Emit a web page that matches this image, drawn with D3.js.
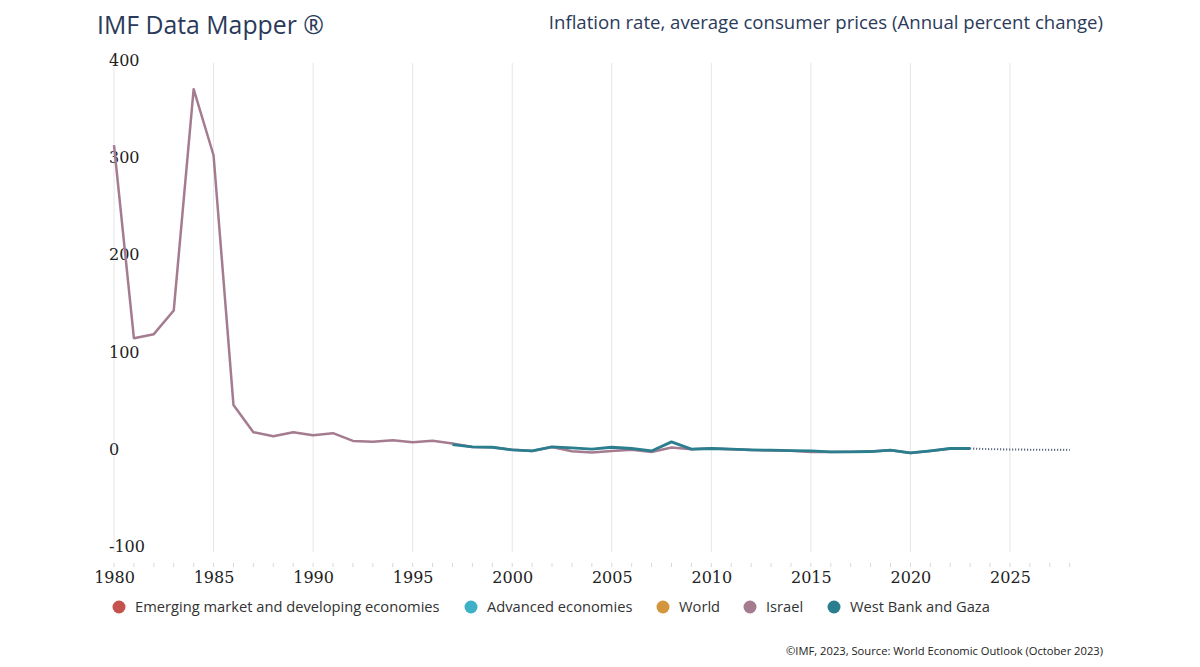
<!DOCTYPE html>
<html>
<head>
<meta charset="utf-8">
<script src="https://cdn.jsdelivr.net/npm/d3@7/dist/d3.min.js"></script>
<style>
  html, body { margin: 0; padding: 0; background: #fff; }
  svg { display: block; }
</style>
</head>
<body>
<svg id="chart" width="1200" height="667"></svg>
<script>
// ---- DATA ----
const title = "IMF Data Mapper ®";
const subtitle = "Inflation rate, average consumer prices (Annual percent change)";
const footer = "©IMF, 2023, Source: World Economic Outlook (October 2023)";

const yTicks = [400, 300, 200, 100, 0, -100];
const xTicks = [1980, 1985, 1990, 1995, 2000, 2005, 2010, 2015, 2020, 2025];

const legendNames = ["Emerging market and developing economies", "Advanced economies", "World", "Israel", "West Bank and Gaza"];
const legendColors = ["#c4524f", "#3fb1c6", "#d4953f", "#a57b90", "#2a7e8e"];

const israelYears = [1980,1981,1982,1983,1984,1985,1986,1987,1988,1989,1990,1991,1992,1993,1994,1995,1996,1997,1998,1999,2000,2001,2002,2003,2004,2005,2006,2007,2008,2009,2010,2011,2012,2013,2014,2015,2016,2017,2018,2019,2020,2021,2022,2023];
const israelValues = [312,113.6,117.7,142,369.5,301.6,45,17,12.8,17,13.9,16,8,7.2,8.7,6.7,8.2,5.3,1.8,1.5,-1.2,-2.3,1.8,-2.6,-3.9,-2.3,-1.2,-3.3,1.2,-0.5,0.2,-0.5,-1.4,-1.8,-2.2,-3.3,-3.4,-3.2,-2.8,-1.6,-4.4,-2.3,0.2,0.2];
const israelProjYears = [2023,2024,2025,2026,2027,2028];
const israelProjValues = [0.2,-0.5,-0.8,-1.0,-1.2,-1.2];

const wbgYears = [1997,1998,1999,2000,2001,2002,2003,2004,2005,2006,2007,2008,2009,2010,2011,2012,2013,2014,2015,2016,2017,2018,2019,2020,2021,2022,2023];
const wbgValues = [4.3,1.8,1.5,-1.2,-2.3,1.8,0.8,-0.5,1.5,0.2,-2.3,7.0,-0.5,0.2,-0.5,-1.2,-1.5,-1.9,-2.3,-3.3,-3.3,-2.9,-1.5,-4.4,-2.3,0.2,0.2];
const wbgProjYears = [2023,2024,2025,2026,2027,2028];
const wbgProjValues = [0.2,-0.5,-0.8,-1.0,-1.2,-1.2];

// ---- CHART ----
const svg = d3.select("#chart");
const x = d3.scaleLinear().domain([1980, 2028]).range([114, 1069.7]);
const y = d3.scaleLinear().domain([-100, 400]).range([546, 59.5]);

svg.append("text").attr("x", 97).attr("y", 34)
  .attr("font-family", "'Open Sans', sans-serif").attr("font-size", 24.8)
  .attr("fill", "#2b3a5a").text(title);
svg.append("text").attr("x", 1103).attr("y", 29).attr("text-anchor", "end")
  .attr("font-family", "'Open Sans', sans-serif").attr("font-size", 18.6)
  .attr("fill", "#2b3a5a").text(subtitle);

// vertical grid
svg.append("g").selectAll("line").data(xTicks).join("line")
  .attr("x1", d => x(d)).attr("x2", d => x(d))
  .attr("y1", 63).attr("y2", 552)
  .attr("stroke", "#e6e6e6").attr("stroke-width", 1);

// minor year ticks
const allYears = d3.range(1980, 2029);
svg.append("g").selectAll("line").data(allYears).join("line")
  .attr("x1", d => x(d)).attr("x2", d => x(d))
  .attr("y1", 563).attr("y2", 567)
  .attr("stroke", "#d8d8d8").attr("stroke-width", 1);

// x axis labels
const xAxis = d3.axisBottom(x).tickValues(xTicks).tickFormat(d => String(d)).tickSize(0).tickPadding(0);
const gx = svg.append("g").attr("transform", "translate(0,572)").call(xAxis);
gx.select(".domain").remove();
gx.selectAll("text").attr("font-family", "'DejaVu Serif', serif").attr("font-size", 16)
  .attr("fill", "#222").attr("dy", "0.71em");

// y axis labels (left aligned)
const yAxis = d3.axisLeft(y).tickValues(yTicks).tickFormat(d => String(d)).tickSize(0).tickPadding(0);
const gy = svg.append("g").attr("transform", "translate(109,0)").call(yAxis);
gy.select(".domain").remove();
gy.selectAll("text").attr("text-anchor", "start").attr("x", 0)
  .attr("font-family", "'DejaVu Serif', serif").attr("font-size", 16)
  .attr("fill", "#222").attr("dy", "0.35em");

const line = d3.line().x(d => x(d[0])).y(d => y(d[1]));
const zip = (a, b) => a.map((v, i) => [v, b[i]]);

// projections (dotted)
svg.append("path").datum(zip(israelProjYears, israelProjValues))
  .attr("d", line).attr("fill", "none").attr("stroke", "#8a7a90")
  .attr("stroke-width", 2).attr("stroke-dasharray", "1,2");
svg.append("path").datum(zip(wbgProjYears, wbgProjValues))
  .attr("d", line).attr("fill", "none").attr("stroke", "#4f6a80")
  .attr("stroke-width", 1.6).attr("stroke-dasharray", "1,2");

// Israel
svg.append("path").datum(zip(israelYears, israelValues))
  .attr("d", line).attr("fill", "none").attr("stroke", legendColors[3])
  .attr("stroke-width", 2.5).attr("stroke-linejoin", "round");
// West Bank and Gaza
svg.append("path").datum(zip(wbgYears, wbgValues))
  .attr("d", line).attr("fill", "none").attr("stroke", legendColors[4])
  .attr("stroke-width", 2.8).attr("stroke-linejoin", "round");

// legend
const legendX = [119, 471, 663, 750, 834];
const lg = svg.append("g");
legendNames.forEach((n, i) => {
  lg.append("circle").attr("cx", legendX[i]).attr("cy", 607).attr("r", 6.5).attr("fill", legendColors[i]);
  lg.append("text").attr("x", legendX[i] + 16).attr("y", 612.3)
    .attr("font-family", "'Open Sans', sans-serif").attr("font-size", 14.7)
    .attr("fill", "#333").text(n);
});

svg.append("text").attr("x", 1103).attr("y", 655).attr("text-anchor", "end")
  .attr("font-family", "'Open Sans', sans-serif").attr("font-size", 11.2)
  .attr("fill", "#222").text(footer);
</script>
</body>
</html>
